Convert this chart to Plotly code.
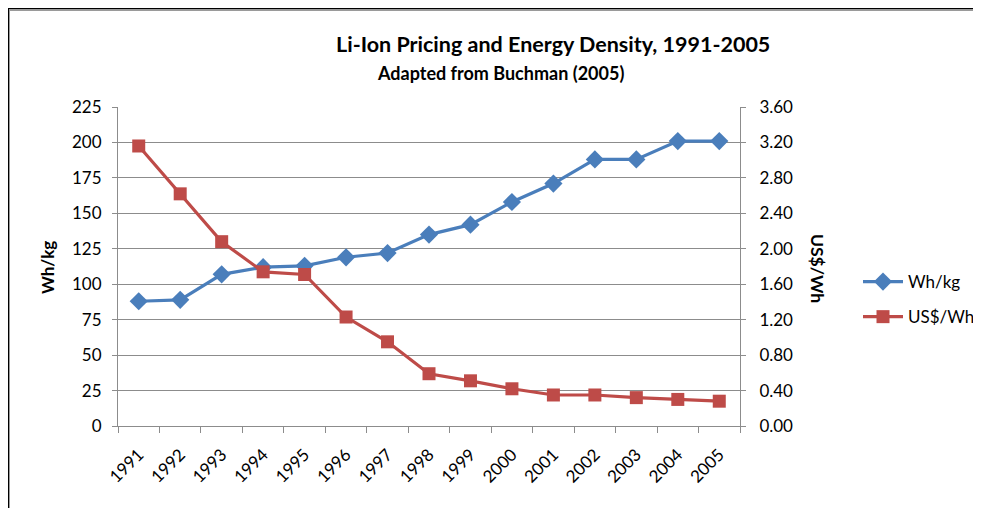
import plotly.graph_objects as go

years = [str(y) for y in range(1991, 2006)]
wh_per_kg = [88, 89, 107, 112, 113, 119, 122, 135, 142, 158, 171, 188, 188, 201, 201]
usd_per_wh = [3.16, 2.62, 2.08, 1.74, 1.71, 1.23, 0.95, 0.59, 0.51, 0.42, 0.35, 0.35, 0.32, 0.30, 0.28]
left_ticks = [0, 25, 50, 75, 100, 125, 150, 175, 200, 225]
right_ticks = [0, 0.4, 0.8, 1.2, 1.6, 2.0, 2.4, 2.8, 3.2, 3.6]

FONT = "Lato"
BLUE = "#4A7EBB"
RED = "#BE4B48"
GRID = "#8C8C8C"

# page body has an 8px margin: figure coords = screen coords - 8
OFF = 8
W, H = 981 - OFF, 508 - OFF
L = 118 - OFF
T = 107 - OFF
R = W - (740 - OFF)
B = H - (426 - OFF)
pw = W - L - R
ph = H - T - B


def px_x(sx):
    return (sx - OFF - L) / pw


def px_y(sy):
    return (H - B - (sy - OFF)) / ph


def fx(f):
    return (f - L) / pw


def fy(f):
    return (H - B - f) / ph


fig = go.Figure()
fig.add_trace(go.Scatter(x=years, y=wh_per_kg, name="Wh/kg", mode="lines+markers",
                         line=dict(color=BLUE, width=3.2),
                         marker=dict(symbol="diamond", size=14, color=BLUE),
                         legendgroup="a"))
fig.add_trace(go.Scatter(x=years, y=usd_per_wh, name="US$/Wh", mode="lines+markers",
                         line=dict(color=RED, width=3.2),
                         marker=dict(symbol="square", size=13, color=RED),
                         yaxis="y2", legendgroup="b"))

TICKF = dict(family=FONT, size=17, color="#000000")

fig.update_layout(
    width=W, height=H,
    margin=dict(l=L, r=R, t=T, b=B, pad=0, autoexpand=False),
    paper_bgcolor="white", plot_bgcolor="white",
    font=dict(family=FONT, size=16, color="#000000"),
    showlegend=True,
    legend=dict(x=px_x(858), y=px_y(264), xanchor="left", yanchor="top",
                font=dict(family=FONT, size=17), tracegroupgap=10, itemwidth=40,
                traceorder="grouped", bgcolor="rgba(0,0,0,0)"),
    xaxis=dict(type="category", showgrid=False, showline=True, linecolor=GRID, linewidth=1,
               ticks="outside", ticklen=6, tickcolor=GRID, tickson="boundaries",
               tickangle=-45, tickfont=TICKF, range=[-0.5, 14.5], ticklabelstandoff=11),
    yaxis=dict(range=[0, 225], tickvals=left_ticks, showgrid=True, gridcolor=GRID, gridwidth=1,
               showline=True, linecolor=GRID, ticks="outside", ticklen=5, tickcolor=GRID,
               tickfont=TICKF, zeroline=False, ticklabelstandoff=7),
    yaxis2=dict(range=[0, 3.6], tickvals=right_ticks, tickformat=".2f", overlaying="y", side="right",
                showgrid=False, showline=True, linecolor=GRID, ticks="outside", ticklen=5,
                tickcolor=GRID, tickfont=TICKF, zeroline=False, ticklabelstandoff=10),
    annotations=[
        dict(text="<b>Li-Ion Pricing and Energy Density, 1991-2005</b>", xref="paper", yref="paper",
             x=px_x(553), y=px_y(44), xanchor="center", yanchor="middle", showarrow=False,
             font=dict(family=FONT, size=21.5)),
        dict(text="<b>Adapted from Buchman (2005)</b>", xref="paper", yref="paper",
             x=px_x(500), y=px_y(73), xanchor="center", yanchor="middle", showarrow=False,
             font=dict(family=FONT, size=18)),
        dict(text="<b>Wh/kg</b>", xref="paper", yref="paper", x=px_x(47), y=px_y(268),
             xanchor="center", yanchor="middle",
             showarrow=False, textangle=-90, font=dict(family=FONT, size=17)),
        dict(text="<b>US$/Wh</b>", xref="paper", yref="paper", x=px_x(818), y=px_y(268),
             xanchor="center", yanchor="middle",
             showarrow=False, textangle=90, font=dict(family=FONT, size=17.5)),
    ],
    shapes=[
        dict(type="line", xref="paper", yref="paper", x0=fx(0.5), x1=fx(0.5),
             y0=fy(0), y1=fy(H + 5), line=dict(color="#000000", width=1), layer="above"),
        dict(type="line", xref="paper", yref="paper", x0=fx(1.5), x1=fx(1.5),
             y0=fy(1), y1=fy(H + 5), line=dict(color="#9A9A9A", width=1), layer="above"),
        dict(type="line", xref="paper", yref="paper", x0=fx(0), x1=fx(W + 5),
             y0=fy(0.5), y1=fy(0.5), line=dict(color="#000000", width=1), layer="above"),
        dict(type="line", xref="paper", yref="paper", x0=fx(1), x1=fx(W + 5),
             y0=fy(2), y1=fy(2), line=dict(color="#9A9A9A", width=2), layer="above"),
    ],
)

fig.write_html("out.html")
